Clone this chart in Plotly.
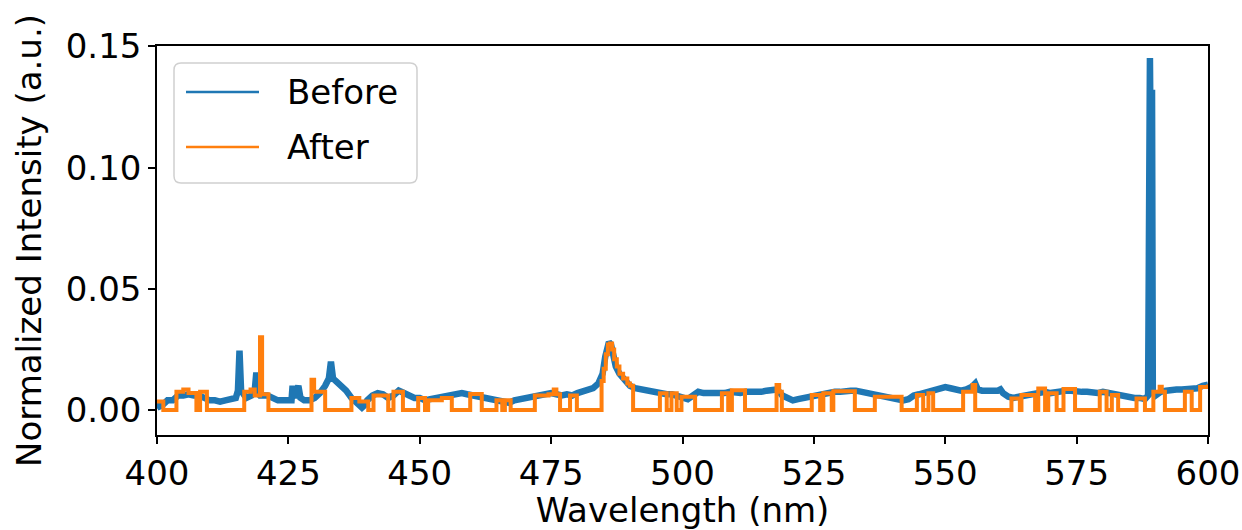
import plotly.graph_objects as go

# ---------------- data ----------------
before_wavelength = [
    400, 400.5, 401, 402, 403, 404, 405, 406, 407, 408, 409, 410, 411, 412, 413, 414, 415,
    415.4, 415.7, 416.0, 416.5, 417, 418, 418.6, 418.9, 419.2, 419.6, 420, 421, 422, 423, 424,
    425, 425.6, 425.8, 426.2, 426.9, 427.3, 428, 429, 430, 431, 432, 432.7, 433.1, 433.5, 434,
    435, 436, 437, 438, 439, 439.5, 440, 441, 442, 443, 444, 445, 446, 447, 448, 449, 450,
    451, 452, 453, 454, 455, 456, 457, 458, 459, 460, 461, 462, 463, 464, 465, 466, 467, 468,
    469, 470, 471, 472, 473, 474, 475, 476, 477, 478, 479, 480, 481, 482, 483, 484, 484.8,
    485.3, 485.7, 486.0, 486.4, 486.8, 487.3, 488, 489, 490, 491, 492, 493, 494, 495, 496, 497,
    498, 499, 500, 501, 502, 503, 504, 505, 506, 507, 508, 509, 510, 511, 512, 513, 514, 515,
    516, 517, 518, 519, 520, 521, 522, 523, 524, 525, 526, 527, 528, 529, 530, 531, 532, 533,
    534, 535, 536, 537, 538, 539, 540, 541, 542, 543, 544, 545, 546, 547, 548, 549, 550, 551,
    552, 553, 554, 555, 555.7, 556.2, 557, 558, 559, 560, 560.5, 561, 562, 563, 564, 565, 566,
    567, 568, 569, 570, 571, 572, 573, 574, 575, 576, 577, 578, 579, 580, 581, 582, 583, 584,
    585, 586, 587, 588, 588.6, 588.75, 588.95, 589.0, 589.35, 589.5, 590, 591, 592, 593, 594,
    595, 596, 597, 598, 599, 600,
]
before_intensity = [
    0.003, 0.0015, 0.002, 0.004, 0.004, 0.006, 0.006, 0.0065, 0.006, 0.006, 0.005, 0.004, 0.004, 0.0035, 0.004, 0.0045, 0.005,
    0.008, 0.0245, 0.008, 0.006, 0.005, 0.006, 0.008, 0.0155, 0.007, 0.006, 0.006, 0.006, 0.005, 0.004, 0.004,
    0.004, 0.004, 0.010, 0.005, 0.010, 0.005, 0.004, 0.004, 0.005, 0.007, 0.010, 0.013, 0.0200, 0.013, 0.012,
    0.010, 0.008, 0.005, 0.003, 0.001, 0.002, 0.004, 0.006, 0.007, 0.0065, 0.005, 0.006, 0.008, 0.007, 0.006, 0.005, 0.005,
    0.004, 0.0045, 0.005, 0.0055, 0.006, 0.006, 0.0065, 0.007, 0.0065, 0.006, 0.006, 0.0055, 0.005, 0.004, 0.0035, 0.003, 0.003, 0.004,
    0.0045, 0.005, 0.0055, 0.006, 0.0065, 0.0065, 0.007, 0.0065, 0.006, 0.0065, 0.006, 0.007, 0.0075, 0.008, 0.009, 0.011, 0.015,
    0.022, 0.027, 0.0280, 0.027, 0.022, 0.018, 0.015, 0.012, 0.010, 0.009, 0.0085, 0.008, 0.0075, 0.007, 0.007, 0.0065,
    0.0065, 0.006, 0.005, 0.0045, 0.006, 0.0075, 0.007, 0.007, 0.0065, 0.007, 0.007, 0.0075, 0.007, 0.007, 0.0075, 0.0075, 0.007, 0.0075,
    0.008, 0.008, 0.0085, 0.006, 0.005, 0.004, 0.0045, 0.005, 0.0055, 0.006, 0.006, 0.0065, 0.007, 0.0075, 0.0075, 0.008, 0.008, 0.008,
    0.0075, 0.007, 0.007, 0.0065, 0.006, 0.0055, 0.005, 0.0045, 0.004, 0.0045, 0.006, 0.0065, 0.007, 0.0075, 0.008, 0.009, 0.0095, 0.009,
    0.0085, 0.008, 0.0085, 0.0095, 0.011, 0.0085, 0.008, 0.008, 0.0075, 0.008, 0.0085, 0.007, 0.0055, 0.005, 0.0055, 0.006, 0.0065,
    0.0065, 0.007, 0.0075, 0.007, 0.0075, 0.008, 0.008, 0.008, 0.0075, 0.0075, 0.0075, 0.007, 0.007, 0.0075, 0.007, 0.0065, 0.006, 0.006,
    0.0055, 0.005, 0.005, 0.0045, 0.006, 0.1452, 0.1452, 0.1308, 0.1308, 0.007, 0.006, 0.0075, 0.008, 0.0085, 0.0085,
    0.0085, 0.0085, 0.0085, 0.009, 0.010, 0.0105,
]

# "After" trace: value holds from each wavelength until the next one (step shape)
after_wavelength = [
    400.0, 401.2, 403.7, 405.0, 406.0, 407.5, 408.2, 409.5, 416.6, 417.8, 418.6, 419.6, 420.0,
    421.2, 429.4, 429.9, 432.0, 437.0, 438.5, 440.2, 441.2, 444.0, 445.0, 446.8, 449.7, 451.0,
    451.6, 454.2, 456.1, 459.6, 461.8, 464.6, 465.7, 466.2, 467.3, 471.9, 474.5, 475.5, 476.0,
    476.7, 478.6, 479.9, 484.6, 485.0, 485.4, 485.8, 486.2, 486.6, 487.0, 487.5, 488.0, 488.7,
    489.5, 490.0, 490.6, 495.7, 497.0, 497.9, 498.9, 499.8, 502.4, 507.5, 508.7, 509.4, 511.9,
    517.9, 518.4, 518.9, 524.6, 526.2, 526.8, 528.4, 528.7, 532.8, 536.6, 541.7, 544.6, 545.8,
    546.8, 547.7, 553.4, 555.2, 555.7, 562.6, 564.2, 564.5, 567.1, 567.7, 569.0, 569.6, 571.2,
    572.5, 574.7, 579.4, 580.7, 581.7, 582.9, 586.4, 588.0, 589.6, 590.8, 591.2, 591.8, 595.6,
    596.9, 598.5, 600.0,
]
after_intensity = [
    0.0035, 0.0, 0.0075, 0.0085, 0.007, 0.0, 0.0075, 0.0, 0.0075, 0.0085, 0.006, 0.0300, 0.0065,
    0.0, 0.0125, 0.0075, 0.0, 0.005, 0.0035, 0.0, 0.006, 0.0, 0.0075, 0.0, 0.005, 0.0,
    0.004, 0.005, 0.0, 0.0066, 0.0, 0.004, 0.0, 0.004, 0.0, 0.006, 0.0065, 0.0085, 0.0065,
    0.0, 0.006, 0.0, 0.012, 0.017, 0.023, 0.0270, 0.0275, 0.025, 0.021, 0.018, 0.015, 0.013,
    0.011, 0.010, 0.0, 0.0069, 0.0, 0.0069, 0.0, 0.0055, 0.0, 0.0069, 0.0, 0.0082, 0.0,
    0.0103, 0.0075, 0.0, 0.0062, 0.0, 0.0069, 0.0, 0.0077, 0.0, 0.0055, 0.0, 0.0062, 0.0,
    0.0069, 0.0, 0.0075, 0.0103, 0.0, 0.0048, 0.0, 0.0062, 0.0, 0.0089, 0.0, 0.0069, 0.0,
    0.0087, 0.0, 0.0075, 0.0, 0.0062, 0.0, 0.0048, 0.0, 0.0075, 0.0096, 0.0075, 0.0, 0.0075,
    0.0, 0.0095, 0.0105,
]

series_names = ["Before", "After"]
series_colors = ["#1f77b4", "#ff7f0e"]
x_tick_values = [400, 425, 450, 475, 500, 525, 550, 575, 600]
y_tick_values = [0.00, 0.05, 0.10, 0.15]
y_tick_labels = ["0.00", "0.05", "0.10", "0.15"]
x_title = "Wavelength (nm)"
y_title = "Normalized Intensity (a.u.)"

FONT = "DejaVu Sans"
FS = 34

fig = go.Figure()
fig.add_trace(go.Scatter(
    x=before_wavelength, y=before_intensity, mode="lines", name=series_names[0],
    line=dict(color=series_colors[0], width=6.5), showlegend=False))
fig.add_trace(go.Scatter(
    x=after_wavelength, y=after_intensity, mode="lines", name=series_names[1],
    line=dict(color=series_colors[1], width=4, shape="hv"), showlegend=False))

# plot area in pixels (for converting legend placement to paper coords)
L, R, T, B = 157, 1208, 46, 435
W, H = R - L, B - T
def px(x):
    return (x - L) / W
def py(y):
    return (B - y) / H

# manual matplotlib-style legend
bx0, bx1, by0, by1, rad = 174, 417, 63, 183, 7
rx, ry = rad / W, rad / H
X0, X1, Y0, Y1 = px(bx0), px(bx1), py(by0), py(by1)
path = (f"M {X0+rx},{Y0} L {X1-rx},{Y0} Q {X1},{Y0} {X1},{Y0-ry} "
        f"L {X1},{Y1+ry} Q {X1},{Y1} {X1-rx},{Y1} L {X0+rx},{Y1} "
        f"Q {X0},{Y1} {X0},{Y1+ry} L {X0},{Y0-ry} Q {X0},{Y0} {X0+rx},{Y0} Z")
shapes = [dict(type="path", xref="paper", yref="paper", path=path,
               line=dict(color="#d0d0d0", width=1.5), fillcolor="rgba(255,255,255,0.8)", layer="above")]
annotations = []
for i, (name, col) in enumerate(zip(series_names, series_colors)):
    yy = py(92 + i * 55)
    shapes.append(dict(type="line", xref="paper", yref="paper", x0=px(186), x1=px(259), y0=yy, y1=yy,
                       line=dict(color=col, width=2.7), layer="above"))
    annotations.append(dict(xref="paper", yref="paper", x=px(285), y=yy, text=name, showarrow=False,
                            xanchor="left", yanchor="middle", font=dict(family=FONT, size=FS, color="black")))

fig.update_layout(
    width=1242, height=530,
    margin=dict(l=L, r=1242 - R, t=T, b=530 - B, autoexpand=False),
    paper_bgcolor="white", plot_bgcolor="white",
    font=dict(family=FONT, size=FS, color="black"),
    shapes=shapes, annotations=annotations, showlegend=False,
)
fig.update_xaxes(
    range=[400, 600], tickvals=x_tick_values, ticks="outside", ticklen=7, tickwidth=1.5, tickcolor="black",
    showline=True, linecolor="black", linewidth=1.5, mirror=True, showgrid=False, zeroline=False,
    tickfont=dict(family=FONT, size=FS, color="black"),
    title=dict(text=x_title, font=dict(family=FONT, size=FS, color="black"), standoff=10),
)
fig.update_yaxes(
    range=[-0.0103, 0.1502], tickvals=y_tick_values, ticktext=y_tick_labels, ticks="outside", ticklen=7,
    tickwidth=1.5, tickcolor="black",
    showline=True, linecolor="black", linewidth=1.5, mirror=True, showgrid=False, zeroline=False,
    tickfont=dict(family=FONT, size=FS, color="black"),
    title=dict(text=y_title, font=dict(family=FONT, size=FS, color="black"), standoff=14),
)

fig.write_html("out.html")
